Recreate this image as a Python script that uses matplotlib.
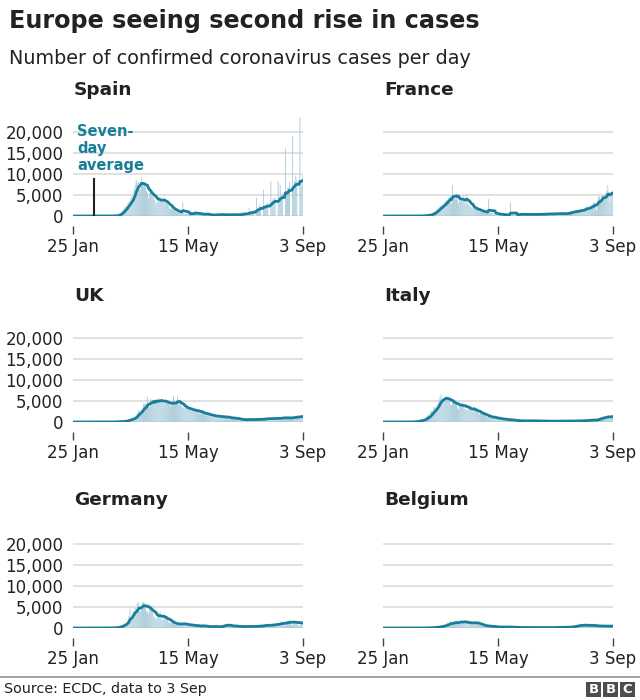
import numpy as np
import pandas as pd
import matplotlib.pyplot as plt
from matplotlib.lines import Line2D
from matplotlib.patches import Rectangle

plt.rcParams['font.family'] = ['DejaVu Sans']

# Data: daily confirmed cases, 25 Jan (day 0) to 3 Sep (day 222)
countries = ["Spain", "France", "UK", "Italy", "Germany", "Belgium"]
tick_days = [0, 111, 222]
tick_labels = ["25 Jan", "15 May", "3 Sep"]
y_ticks = [0, 5000, 10000, 15000, 20000]
y_tick_labels = ["0", "5,000", "10,000", "15,000", "20,000"]

spain = (
    [0, 0, 0, 0, 0, 0, 0] +
    [1, 0, 0, 0, 0, 0, 0, 0, 0, 1, 0, 0, 0, 0, 0, 0, 0, 0, 0, 0, 0, 0, 0, 0, 0, 2, 4, 8, 13] +
    [15, 30, 35, 50, 60, 70, 130, 150, 330, 550, 650, 1100, 1300, 1600, 2000, 2300, 2400, 3000, 3400, 3500,
     4200, 4900, 4300, 6400, 7400, 8600, 7900, 8200, 6600, 6400, 9200] +
    [7700, 8100, 7500, 7000, 6000, 5500, 4300, 5500, 6200, 5000, 4600, 4800, 3800, 3200, 3000, 4300, 4400, 4000, 3800, 3600,
     3500, 3300, 3000, 3900, 2900, 2400, 1700, 1800, 2100, 1500] +
    [1600, 1400, 1100, 1000, 900, 700, 1100, 1000, 1000, 3300, 600, 400, 600, 500, 700, 600, 500, 400, 800, 500,
     400, 1500, 500, 700, 300, 200, 400, 500, 600, 500, 600] +
    [400, 300, 400, 300, 400, 0, 0, 500, 300, 300, 400, 500, 0, 0, 600, 400, 300, 600, 300, 0,
     0, 500, 400, 300, 400, 500, 0, 0, 600, 300] +
    [400, 400, 500, 0, 0, 900, 600, 600, 700, 800, 0, 0, 1900, 1000, 900, 1100, 1300, 0, 0, 4300,
     1800, 1600, 2600, 2200, 0, 0, 6200, 2000, 2500, 2800, 3100] +
    [0, 0, 8300, 3500, 4000, 4200, 4400, 0, 0, 8300, 4500, 7400, 5000, 5500, 0, 0, 16000, 5100, 6700, 6800,
     8100, 0, 0, 19000, 7300, 8300, 9600, 8500, 0, 0, 23500] +
    [8000, 8900, 9800]
)

france = (
    [0, 0, 3, 0, 1, 0, 0] +
    [0, 0, 0, 0, 0, 0, 0, 5, 0, 0, 0, 0, 0, 0, 1, 0, 0, 0, 0, 0, 0, 0, 0, 0, 0, 2, 14, 20, 43] +
    [30, 45, 60, 80, 140, 90, 180, 230, 180, 280, 370, 500, 600, 900, 1000, 1200, 1500, 1800, 2000, 2300,
     2400, 2500, 2700, 3000, 3400, 3700, 3800, 4300, 4400, 4600, 3000] +
    [7400, 4800, 4500, 4000, 5200, 3900, 3100, 3800, 4300, 4100, 3400, 4800, 3500, 2700, 5300, 3000, 2600, 2400, 2100, 1800,
     2000, 1700, 1700, 1600, 1500, 1400, 1100, 1200, 1000, 1100] +
    [1000, 1100, 900, 800, 700, 4000, 1000, 900, 800, 700, 600, 500, 600, 500, 400, 400, 300, 300, 300, 300,
     300, 200, 300, 200, 300, 300, 3200, 300, 300, 200, 300] +
    [300, 300, 400, 300, 500, 600, 400, 300, 300, 400, 400, 500, 400, 300, 300, 300, 400, 500, 400, 400,
     400, 300, 300, 400, 500, 600, 400, 300, 400, 500] +
    [500, 600, 500, 600, 400, 300, 500, 600, 700, 600, 700, 500, 300, 500, 600, 700, 800, 500, 600, 400,
     300, 900, 1000, 1100, 1200, 1000, 800, 700, 1300, 1400, 1300] +
    [1300, 1500, 1200, 1000, 1600, 1700, 1900, 2200, 2300, 1500, 1400, 2300, 2500, 2700, 3300, 3100, 2900, 1300, 3700, 4700,
     4600, 4000, 4800, 4900, 3700, 3800, 5400, 6000, 7400, 5500, 3200] +
    [4900, 5500, 6000]
)

uk = (
    [0, 0, 0, 0, 0, 0, 2] +
    [0, 0, 0, 0, 0, 0, 0, 1, 0, 0, 4, 0, 0, 0, 0, 0, 0, 0, 0, 0, 0, 0, 0, 0, 4, 0, 0, 2, 5] +
    [12, 20, 30, 40, 50, 60, 50, 70, 60, 50, 80, 130, 200, 240, 340, 250, 150, 400, 670, 640,
     700, 1000, 670, 970, 1400, 1500, 2100, 2900, 2500, 2400, 3000] +
    [2600, 4300, 4200, 4500, 3700, 5900, 3800, 3600, 5500, 5000, 5200, 5300, 4300, 5300, 4600, 4600, 5600, 5500, 5500, 4700,
     4400, 4500, 4600, 5400, 4900, 4300, 4400, 3700, 4100, 4100] +
    [6200, 4800, 4300, 4300, 6100, 4000, 4600, 4600, 3700, 3500, 3400, 3300, 3400, 3200, 3400, 3100, 3000, 2600, 3000, 2500,
     2400, 3300, 2600, 2900, 2400, 2000, 2000, 2600, 2000, 2400, 1900] +
    [1600, 1600, 1900, 1900, 1800, 1600, 1500, 1200, 1300, 1500, 1300, 1500, 1500, 1300, 1100, 1000, 1400, 1200, 1300, 1300,
     1000, 1200, 900, 1000, 650, 900, 1200, 1000, 1000, 800] +
    [700, 600, 700, 700, 550, 500, 600, 400, 600, 650, 600, 550, 650, 500, 550, 550, 600, 650, 700, 800,
     500, 450, 600, 750, 700, 750, 800, 600, 800, 850, 900] +
    [850, 800, 750, 700, 900, 950, 900, 900, 850, 700, 800, 1000, 1050, 1100, 1100, 1000, 900, 800, 900, 1100,
     1100, 1000, 1000, 1000, 1100, 1200, 1250, 1300, 1100, 1200, 1300] +
    [1300, 1500, 1700]
)

italy = (
    [0, 0, 0, 0, 0, 0, 2] +
    [0, 0, 0, 0, 0, 1, 0, 0, 0, 0, 0, 0, 0, 0, 0, 0, 0, 0, 0, 0, 14, 62, 53, 97, 93, 78, 250, 238, 240] +
    [566, 342, 466, 587, 769, 778, 1247, 1492, 1797, 977, 2313, 2651, 2547, 3497, 3590, 3233, 3526, 4207, 5322, 5986,
     6557, 5560, 4789, 5249, 5210, 6153, 5959, 5974, 5217, 4050, 4053] +
    [4782, 4668, 4585, 4805, 4316, 3599, 3039, 3836, 4204, 3951, 4694, 4092, 3153, 2972, 2667, 3786, 3493, 3491, 3047, 2256,
     2729, 3370, 2646, 3021, 2357, 2324, 1739, 2091, 2086, 1872] +
    [1965, 1900, 1389, 1221, 1075, 1444, 1401, 1327, 1083, 802, 744, 1402, 888, 992, 789, 875, 675, 451, 813, 665,
     642, 652, 669, 531, 300, 397, 584, 593, 516, 416, 355] +
    [178, 318, 321, 177, 518, 270, 197, 280, 283, 202, 379, 163, 346, 338, 301, 210, 329, 333, 251, 262,
     224, 221, 113, 296, 190, 296, 259, 175, 174, 126] +
    [187, 201, 223, 235, 192, 208, 138, 193, 229, 276, 188, 234, 169, 114, 162, 230, 233, 249, 219, 218,
     129, 282, 306, 252, 275, 255, 170, 181, 212, 289, 386] +
    [379, 295, 239, 159, 190, 384, 401, 552, 347, 463, 259, 412, 481, 523, 629, 479, 320, 403, 642, 845,
     947, 1071, 1210, 1041, 953, 878, 1367, 1409, 1460, 1444, 996] +
    [978, 1326, 1397]
)

germany = (
    [0, 0, 0, 1, 3, 0, 0] +
    [1, 1, 2, 2, 1, 0, 1, 1, 1, 0, 0, 2, 0, 0, 0, 0, 0, 0, 0, 0, 0, 0, 0, 0, 0, 0, 10, 19, 2] +
    [14, 30, 40, 60, 80, 130, 150, 200, 250, 300, 450, 600, 700, 900, 1200, 1000, 1400, 2000, 2800, 4500,
     2600, 2500, 4100, 3800, 4900, 4400, 5800, 6200, 3900, 4000, 4900] +
    [6100, 6100, 6000, 5500, 4000, 3800, 3400, 5600, 5200, 4100, 3700, 2800, 2500, 2100, 2500, 3700, 3100, 3900, 2400, 1800,
     2200, 2500, 2600, 2600, 2200, 1500, 1200, 1300, 1300, 1400] +
    [1500, 900, 700, 700, 700, 1200, 1100, 1200, 1200, 700, 700, 900, 900, 900, 900, 600, 600, 500, 600, 800,
     700, 500, 500, 600, 400, 350, 450, 600, 750, 600, 300] +
    [300, 200, 350, 250, 400, 550, 300, 200, 350, 300, 550, 350, 250, 200, 190, 350, 500, 800, 750, 1000,
     600, 550, 450, 600, 600, 550, 500, 250, 400, 500] +
    [400, 500, 400, 350, 250, 200, 350, 400, 400, 450, 400, 250, 150, 300, 400, 500, 600, 450, 300, 200,
     250, 400, 550, 800, 800, 300, 350, 600, 700, 900, 900] +
    [750, 300, 250, 900, 800, 1000, 1100, 1200, 400, 450, 1200, 1200, 1450, 1450, 1400, 600, 550, 1700, 1500, 1700,
     2000, 1500, 800, 700, 1500, 1600, 1600, 1600, 1400, 600, 700] +
    [1200, 1300, 1400]
)

belgium = (
    [0, 0, 0, 0, 0, 0, 0] +
    [0, 0, 0, 1, 0, 0, 0, 0, 0, 0, 0, 0, 0, 0, 0, 0, 0, 0, 0, 0, 0, 0, 0, 0, 0, 0, 0, 0, 0] +
    [1, 1, 6, 5, 10, 60, 60, 50, 30, 100, 50, 80, 160, 130, 200, 200, 170, 180, 240, 460,
     560, 590, 340, 530, 670, 670, 1300, 1000, 1050, 1700, 900] +
    [860, 1380, 1420, 1660, 1260, 1120, 1200, 1600, 1580, 1680, 1350, 1630, 1330, 1230, 870, 1580, 1240, 1330, 1050, 1310,
     1250, 990, 1530, 930, 1500, 1030, 700, 550, 650, 700] +
    [600, 700, 400, 320, 330, 400, 640, 350, 400, 300, 250, 260, 290, 200, 300, 230, 170, 250, 280, 280,
     300, 200, 250, 300, 200, 150, 150, 250, 220, 210, 180] +
    [130, 100, 140, 100, 90, 150, 200, 100, 80, 70, 90, 140, 120, 100, 80, 100, 100, 100, 90, 110,
     130, 80, 70, 100, 90, 110, 80, 90, 100, 90] +
    [100, 120, 150, 80, 60, 100, 120, 100, 150, 120, 130, 60, 70, 160, 180, 200, 170, 170, 200, 100,
     300, 200, 290, 250, 250, 150, 350, 600, 650, 700, 500] +
    [450, 600, 800, 700, 750, 700, 650, 650, 500, 400, 850, 700, 600, 600, 600, 450, 400, 600, 500, 550,
     400, 450, 500, 400, 500, 550, 400, 450, 350, 450, 500] +
    [450, 500, 500]
)

daily_cases = {"Spain": spain, "France": france, "UK": uk,
               "Italy": italy, "Germany": germany, "Belgium": belgium}

teal = "#1a7d99"
bar_col = "#a3c8d7"
text_col = "#222222"

W, H = 640, 700
fig = plt.figure(figsize=(6.4, 7.0), dpi=100)

# panel geometry in pixels
panel_left = [73, 383]
zero_y = [216, 422, 628]
title_y = [90, 296, 500]
ax_w = 230
ax_h = 100.8  # 24,000 on the same 84px-per-20,000 scale

for i, name in enumerate(countries):
    row, col = divmod(i, 2)
    ax = fig.add_axes([panel_left[col] / W, 1 - zero_y[row] / H, ax_w / W, ax_h / H])
    daily = pd.Series(daily_cases[name], dtype=float)
    days = np.arange(len(daily))
    avg = daily.rolling(7, min_periods=1).mean()

    ax.bar(days, daily, width=0.8, color=bar_col, linewidth=0, zorder=2, snap=False)
    ax.plot(days, avg, color=teal, lw=2.0, zorder=3, solid_capstyle="round")

    ax.set_xlim(0, 222)
    ax.set_ylim(0, 24000)
    ax.set_yticks(y_ticks)
    ax.grid(axis="y", color="#dcdcdc", lw=1.2, zorder=0)
    ax.set_axisbelow(True)
    for s in ["top", "right", "left"]:
        ax.spines[s].set_visible(False)
    ax.spines["bottom"].set_position(("outward", 7))
    ax.spines["bottom"].set_color("none")

    ax.set_xticks(tick_days)
    ax.set_xticklabels(tick_labels)
    ax.tick_params(axis="x", length=6, width=1, color="#444444", pad=3,
                   labelsize=12, labelcolor=text_col)
    ax.tick_params(axis="y", length=0, pad=7, labelsize=12, labelcolor=text_col)
    if col == 0:
        ax.set_yticklabels(y_tick_labels)
    else:
        ax.set_yticklabels([])

    fig.text((panel_left[col] + 1) / W, 1 - title_y[row] / H, name,
             fontsize=13.3, fontweight="bold", color=text_col, va="center")

    if name == "Spain":
        ax.plot([20.75, 20.75], [0, 8800], color="#222222", lw=1.5, zorder=4)
        fig.text(77 / W, 1 - 124 / H, "Seven-\nday\naverage", fontsize=10.5,
                 fontweight="bold", color=teal, va="top", linespacing=1.15)

# titles
fig.text(9 / W, 1 - 21 / H, "Europe seeing second rise in cases",
         fontsize=17.2, fontweight="bold", color=text_col, va="center")
fig.text(9 / W, 1 - 58 / H, "Number of confirmed coronavirus cases per day",
         fontsize=13.8, color=text_col, va="center")

# footer
fig.add_artist(Line2D([0, 1], [1 - 677 / H] * 2, color="#999999", lw=1.3))
fig.text(4 / W, 1 - 689 / H, "Source: ECDC, data to 3 Sep", fontsize=10.3,
         color=text_col, va="center")
for k, letter in enumerate("BBC"):
    x0 = 586 + k * 17
    fig.add_artist(Rectangle((x0 / W, 1 - 697 / H), 15 / W, 15 / H,
                             facecolor="#4d4d4d", edgecolor="none",
                             transform=fig.transFigure))
    fig.text((x0 + 7.5) / W, 1 - 689.5 / H, letter, fontsize=9.5, fontweight="bold",
             color="white", ha="center", va="center")

fig.savefig("out.png", dpi=100)
